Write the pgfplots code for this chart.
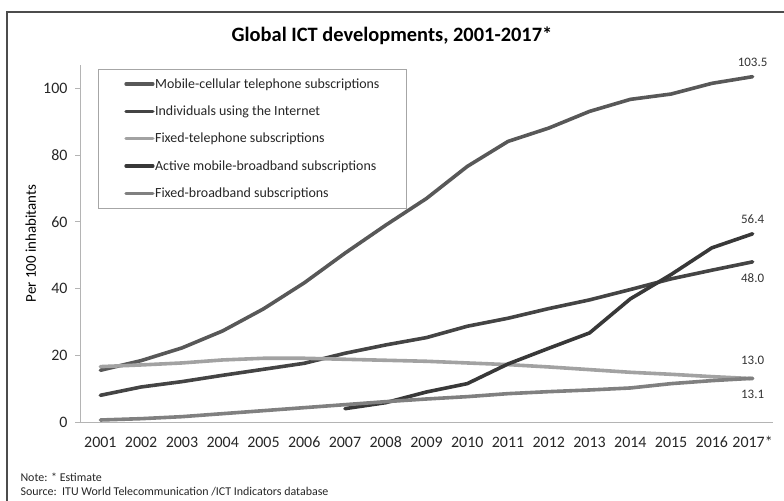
\documentclass[border=0pt]{standalone}
\usepackage{pgfplots}
\pgfplotsset{compat=1.18}
\usepackage{fontspec}
\setmainfont{Carlito}

\definecolor{cellular}{HTML}{585858}
\definecolor{internet}{HTML}{444444}
\definecolor{fixedtel}{HTML}{A2A2A2}
\definecolor{mobbb}{HTML}{383838}
\definecolor{fixedbb}{HTML}{808080}
\definecolor{axisgray}{HTML}{B4B4B4}

% year index: 0 = 2001 ... 16 = 2017
\pgfplotstableread{
x  cell   inet  ftel  fbb
0  15.5   8.0   16.6  0.6
1  18.4   10.5  17.1  1.0
2  22.2   12.1  17.7  1.6
3  27.3   14.0  18.6  2.5
4  33.9   15.8  19.1  3.4
5  41.7   17.6  19.1  4.3
6  50.6   20.6  18.8  5.2
7  59.0   23.1  18.5  6.1
8  67.0   25.3  18.2  6.9
9  76.6   28.7  17.7  7.6
10 84.1   31.1  17.2  8.5
11 88.1   34.0  16.5  9.1
12 93.1   36.6  15.7  9.6
13 96.7   39.7  14.9  10.2
14 98.3   42.9  14.3  11.5
15 101.5  45.5  13.6  12.4
16 103.5  48.0  13.0  13.1
}\ictdata

\pgfplotstableread{
x  mbb
6  4.0
7  5.8
8  9.0
9  11.5
10 17.4
11 22.1
12 26.7
13 36.9
14 44.2
15 52.2
16 56.4
}\mbbdata

\begin{document}
\begin{tikzpicture}
\useasboundingbox (0bp,0bp) rectangle (784bp,-501bp);
% outer frame
\draw[line width=1.6bp, color=black!70] (7bp,-515bp) -- (7bp,-12bp) -- (800bp,-12bp);

\node[font=\fontsize{20.5}{24}\selectfont\bfseries, anchor=center] at (392bp,-36bp) {Global ICT developments, 2001-2017*};

\begin{axis}[
  at={(80bp,-422bp)}, anchor=south west,
  scale only axis, width=693bp, height=357bp,
  xmin=-0.5, xmax=16.5, ymin=0, ymax=107,
  axis x line*=bottom, axis y line*=left,
  axis line style={axisgray, line width=0.9bp},
  xtick={0,...,16},
  xticklabels={2001,2002,2003,2004,2005,2006,2007,2008,2009,2010,2011,2012,2013,2014,2015,2016,2017*},
  extra x ticks={-0.5,0.5,...,16.5},
  extra x tick labels={},
  extra x tick style={major tick length=5bp, tick style={axisgray, line width=0.9bp}},
  major x tick style={draw=none},
  ytick={0,20,...,100},
  y tick style={axisgray, line width=0.9bp},
  major tick length=5bp,
  tick align=outside,
  ticklabel style={font=\fontsize{16}{18}\selectfont, text=black!85},
  /pgf/number format/assume math mode=true,
  xticklabel style={anchor=north, text height=11bp, text depth=0bp, yshift=-6bp},
  yticklabel style={xshift=-4bp},
  ylabel={Per 100 inhabitants},
  ylabel style={font=\fontsize{15}{18}\selectfont, at={(axis description cs:-0.071,0.5)}, anchor=center},
  clip=false,
  legend style={at={(18bp,353bp)}, anchor=north west, draw=black!35, line width=0.7bp,
    font=\fontsize{14}{16}\selectfont, text=black!85,
    row sep=12.2bp, inner xsep=26bp, inner ysep=7bp, cells={anchor=west},
    nodes={inner xsep=0.6bp}},
  legend cell align=left,
  legend image code/.code={\draw[#1, line width=3.2bp, line cap=round] (0bp,0bp) -- (27bp,0bp);},
  every axis plot/.append style={line width=3.6bp, line join=round, line cap=round},
  nodes near coords style={font=\fontsize{13}{15}\selectfont, text=black!80},
]
\addplot[cellular] table[x=x,y=cell]{\ictdata};
\addlegendentry{Mobile-cellular telephone subscriptions\hspace{8bp}}
\addplot[internet] table[x=x,y=inet]{\ictdata};
\addlegendentry{Individuals using the Internet}
\addplot[fixedtel] table[x=x,y=ftel]{\ictdata};
\addlegendentry{Fixed-telephone subscriptions}
\addplot[mobbb] table[x=x,y=mbb]{\mbbdata};
\addlegendentry{Active mobile-broadband subscriptions}
\addplot[fixedbb] table[x=x,y=fbb]{\ictdata};
\addlegendentry{Fixed-broadband subscriptions}

% end-point value labels
\addplot[draw=none, forget plot, nodes near coords, point meta=explicit symbolic,
  nodes near coords align={anchor=south}, every node near coord/.append style={yshift=5bp}]
  coordinates {(16,103.5)[103.5] (16,56.4)[56.4]};
\addplot[draw=none, forget plot, nodes near coords, point meta=explicit symbolic,
  nodes near coords align={anchor=north}, every node near coord/.append style={yshift=-7bp}]
  coordinates {(16,48.0)[48.0] (16,13.1)[13.1]};
\addplot[draw=none, forget plot, nodes near coords, point meta=explicit symbolic,
  nodes near coords align={anchor=south}, every node near coord/.append style={yshift=9bp}]
  coordinates {(16,13.0)[13.0]};
\end{axis}

\node[font=\fontsize{12}{14}\selectfont, text=black!85, anchor=west] at (17bp,-477bp) {Note: * Estimate};
\node[font=\fontsize{12}{14}\selectfont, text=black!85, anchor=west] at (17bp,-492bp) {Source:\ \ ITU World Telecommunication /ICT Indicators database};
\end{tikzpicture}
\end{document}
